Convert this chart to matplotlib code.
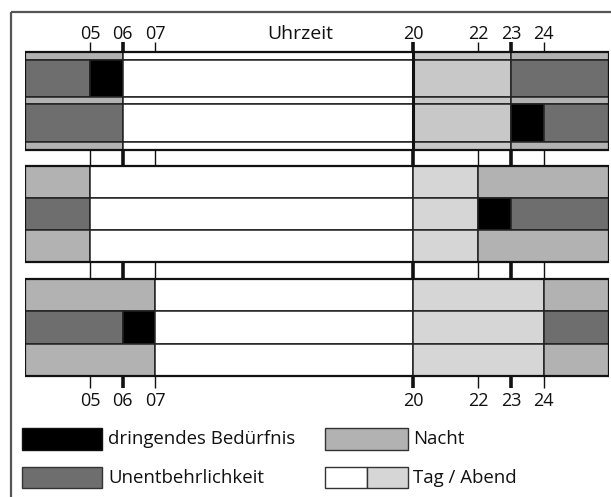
import numpy as np
import matplotlib.pyplot as plt
from matplotlib.patches import Rectangle

plt.rcParams['font.family'] = ['Open Sans', 'DejaVu Sans']

# Stunden an den Markierungen
tick_hours = [5, 6, 7, 20, 22, 23, 24]
tick_labels = ["05", "06", "07", "20", "22", "23", "24"]
major_hours = [6, 20, 23]

# Farben der Kategorien
colors = {
    "D": "#000000",   # dringendes Beduerfnis
    "U": "#6e6e6e",   # Unentbehrlichkeit
    "N": "#b2b2b2",   # Nacht
    "T": "#ffffff",   # Tag
    "A1": "#c8c8c8",  # Abend (oberer Block)
    "A": "#d6d6d6",   # Abend
}

# Segmente je Zeile: (von, bis, Kategorie)
strip_1 = [(3, 6, "N"), (6, 20, "T"), (20, 23, "A1"), (23, 26, "N")]
row_1a = [(3, 5, "U"), (5, 6, "D"), (6, 20, "T"), (20, 23, "A1"), (23, 26, "U")]
row_1b = [(3, 6, "U"), (6, 20, "T"), (20, 23, "A1"), (23, 24, "D"), (24, 26, "U")]

row_2a = [(3, 5, "N"), (5, 20, "T"), (20, 22, "A"), (22, 26, "N")]
row_2b = [(3, 5, "U"), (5, 20, "T"), (20, 22, "A"), (22, 23, "D"), (23, 26, "U")]
row_2c = [(3, 5, "N"), (5, 20, "T"), (20, 22, "A"), (22, 26, "N")]

row_3a = [(3, 7, "N"), (7, 20, "T"), (20, 24, "A"), (24, 26, "N")]
row_3b = [(3, 6, "U"), (6, 7, "D"), (7, 20, "T"), (20, 24, "A"), (24, 26, "U")]
row_3c = [(3, 7, "N"), (7, 20, "T"), (20, 24, "A"), (24, 26, "N")]

legend_labels = ["dringendes Bedürfnis", "Unentbehrlichkeit", "Nacht", "Tag / Abend"]

# Zeitachse: Nacht gedehnt, Tag gestaucht (Pixel ab linkem Rand)
knot_h = [-10, 3, 7, 20, 26, 40]
knot_px = [-422.5, 0, 130, 388, 584, 1041]


def fwd(h):
    return np.interp(h, knot_h, knot_px)


def inv(p):
    return np.interp(p, knot_px, knot_h)


fig = plt.figure(figsize=(6.11, 4.97), dpi=100)
ax = fig.add_axes([25 / 611, 0, 584 / 611, 1])
ax.set_xscale('function', functions=(fwd, inv))
ax.set_xlim(3, 26)
ax.set_ylim(497, 0)
ax.axis('off')

# Zeilen: (Segmente, oben, Hoehe) in Pixeln
layout = [
    (strip_1, 52, 8), (row_1a, 60, 37), (strip_1, 97, 7), (row_1b, 104, 38), (strip_1, 142, 8),
    (row_2a, 166, 32), (row_2b, 198, 32), (row_2c, 230, 32),
    (row_3a, 279, 32), (row_3b, 311, 33), (row_3c, 344, 32),
]
for segs, top, h in layout:
    starts = [s[0] for s in segs]
    widths = [s[1] - s[0] for s in segs]
    cols = [colors[s[2]] for s in segs]
    ax.barh(top, widths, left=starts, height=h, align='edge', color=cols,
            edgecolor='#222222', linewidth=1.1)

# Blockrahmen
blocks = [(52, 98), (166, 96), (279, 97)]
for top, h in blocks:
    ax.add_patch(Rectangle((3, top), 23, h, fill=False, edgecolor='#111111', linewidth=1.6))
ax.vlines(20, 52, 150, color='#111111', linewidth=2.2)

# Markierungslinien in den Luecken
gaps = [(42, 52), (150, 166), (262, 279), (376, 388)]
for y0, y1 in gaps:
    for hr in tick_hours:
        lw = 2.6 if hr in major_hours else 1.0
        ax.vlines(hr, y0, y1, color='#111111', linewidth=lw)

for hr, lab in zip(tick_hours, tick_labels):
    ax.text(hr, 34, lab, ha='center', va='center', fontsize=13, color='#111111')
    ax.text(hr, 401, lab, ha='center', va='center', fontsize=13, color='#111111')
ax.text(14.3, 34, "Uhrzeit", ha='center', va='center', fontsize=14, color='#111111')

# Rahmen und Legende in Pixelkoordinaten
lg = fig.add_axes([0, 0, 1, 1])
lg.set_xlim(0, 611)
lg.set_ylim(497, 0)
lg.axis('off')
lg.patch.set_alpha(0)
lg.plot([10.5, 611], [12, 12], color='#555555', linewidth=1.6, solid_capstyle='butt')
lg.plot([10.5, 10.5], [12, 497], color='#555555', linewidth=1.6, solid_capstyle='butt')

lg.add_patch(Rectangle((22, 428), 80, 22, facecolor=colors["D"], edgecolor='#111111', linewidth=1))
lg.add_patch(Rectangle((22, 467), 80, 21, facecolor=colors["U"], edgecolor='#333333', linewidth=1))
lg.add_patch(Rectangle((325, 428), 83, 22, facecolor=colors["N"], edgecolor='#333333', linewidth=1))
lg.add_patch(Rectangle((325, 467), 42, 21, facecolor=colors["T"], edgecolor='#333333', linewidth=1))
lg.add_patch(Rectangle((367, 467), 41, 21, facecolor=colors["A"], edgecolor='#333333', linewidth=1))
lg.text(108, 439, legend_labels[0], va='center', fontsize=13.4, color='#111111')
lg.text(108, 478, legend_labels[1], va='center', fontsize=13.4, color='#111111')
lg.text(413, 439, legend_labels[2], va='center', fontsize=13.4, color='#111111')
lg.text(413, 478, legend_labels[3], va='center', fontsize=13.4, color='#111111')

fig.savefig('out.png', dpi=100)
